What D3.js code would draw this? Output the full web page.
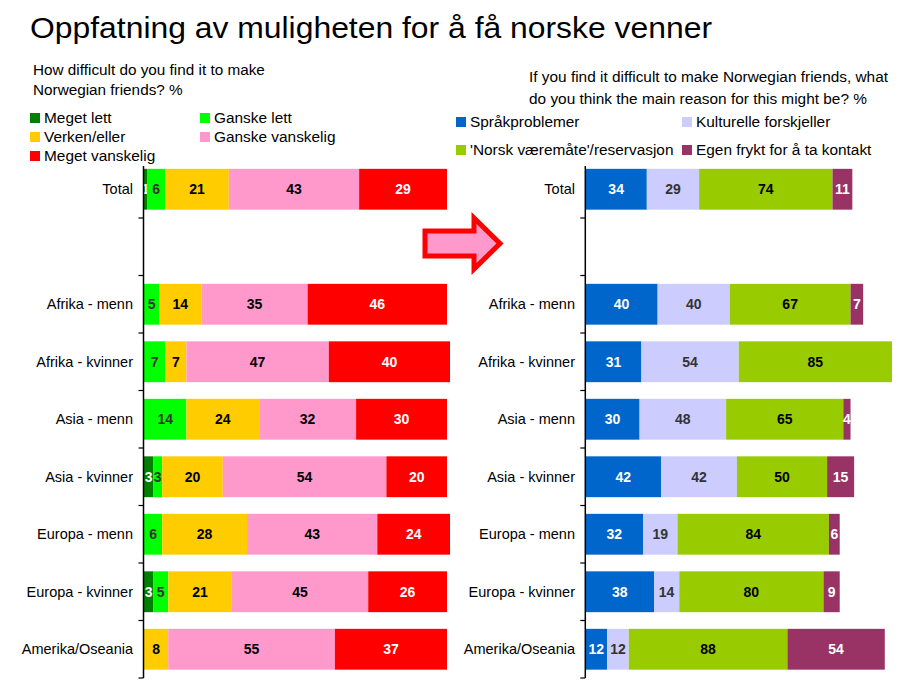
<!DOCTYPE html>
<html><head><meta charset="utf-8">
<script src="https://cdn.jsdelivr.net/npm/d3@7"></script>
<style>body{margin:0;background:#fff}svg{display:block;font-family:Arial,"Liberation Sans",sans-serif}</style>
</head><body>
<svg id="c" width="909" height="699"></svg>
<script>
const categories = ["Total", "", "Afrika - menn", "Afrika - kvinner", "Asia - menn", "Asia - kvinner", "Europa - menn", "Europa - kvinner", "Amerika/Oseania"];

// Left panel: How difficult ...
const leftSeries = ["Meget lett", "Ganske lett", "Verken/eller", "Ganske vanskelig", "Meget vanskelig"];
const megetLett       = [1, null, 0, 0, 0, 3, 0, 3, 0];
const ganskeLett      = [6, null, 5, 7, 14, 3, 6, 5, 0];
const verkenEller     = [21, null, 14, 7, 24, 20, 28, 21, 8];
const ganskeVanskelig = [43, null, 35, 47, 32, 54, 43, 45, 55];
const megetVanskelig  = [29, null, 46, 40, 30, 20, 24, 26, 37];
const leftColors = ["#008000", "#00FF00", "#FFCC00", "#FF99CC", "#FF0000"];
const leftLabelColors = ["#ffffff", "#333333", "#000000", "#000000", "#ffffff"];

// Right panel: main reason
const rightSeries = ["Språkproblemer", "Kulturelle forskjeller", "'Norsk væremåte'/reservasjon", "Egen frykt for å ta kontakt"];
const spraak     = [34, null, 40, 31, 30, 42, 32, 38, 12];
const kulturelle = [29, null, 40, 54, 48, 42, 19, 14, 12];
const norsk      = [74, null, 67, 85, 65, 50, 84, 80, 88];
const frykt      = [11, null, 7, 0, 4, 15, 6, 9, 54];
const rightColors = ["#0066CC", "#CCCCFF", "#99CC00", "#993366"];
const rightLabelColors = ["#ffffff", "#333333", "#000000", "#ffffff"];

const title = "Oppfatning av muligheten for å få norske venner";
const leftQuestion = ["How difficult do you find it to make", "Norwegian friends? %"];
const rightQuestion = ["If you find it difficult to make Norwegian friends, what", "do you think the main reason for this might be? %"];

const svg = d3.select("#c");

svg.append("text").attr("x", 30).attr("y", 38).attr("font-size", 29).attr("fill", "#000")
  .attr("textLength", 682).attr("lengthAdjust", "spacingAndGlyphs").text(title);

const y = d3.scaleBand().domain(categories.map((c, i) => i)).range([160.5, 678]).paddingInner(0.29).paddingOuter(0.145);

function panel(opts) {
  const {x, series, values, colors, labelColors, axisX, labelX} = opts;
  const g = svg.append("g");
  categories.forEach((cat, i) => {
    let acc = 0;
    series.forEach((s, k) => {
      const v = values[k][i];
      if (v == null) return;
      const x0 = x(acc), x1 = x(acc + v);
      acc += v;
      if (v <= 0) return;
      g.append("rect").attr("x", x0).attr("y", y(i)).attr("width", x1 - x0).attr("height", y.bandwidth()).attr("fill", colors[k]);
      g.append("text").attr("x", (x0 + x1) / 2).attr("y", y(i) + y.bandwidth() / 2).attr("dy", "0.35em")
        .attr("text-anchor", "middle").attr("font-size", 14).attr("font-weight", "bold").attr("fill", labelColors[k]).text(v);
    });
    g.append("text").attr("x", labelX).attr("y", y(i) + y.bandwidth() / 2).attr("dy", "0.35em")
      .attr("text-anchor", "end").attr("font-size", 14.5).attr("fill", "#000").text(cat);
  });
  // axis
  g.append("line").attr("x1", axisX).attr("x2", axisX).attr("y1", 166).attr("y2", 678).attr("stroke", "#000").attr("stroke-width", 1.5);
  const step = y.step();
  for (let j = 1; j <= categories.length; j++) {
    const ty = 160.5 + j * step;
    g.append("line").attr("x1", axisX - 5).attr("x2", axisX).attr("y1", ty).attr("y2", ty).attr("stroke", "#000").attr("stroke-width", 1.2);
  }
}

const xl = d3.scaleLinear().domain([0, 100]).range([144, 447]);
panel({x: xl, series: leftSeries, values: [megetLett, ganskeLett, verkenEller, ganskeVanskelig, megetVanskelig],
  colors: leftColors, labelColors: leftLabelColors, axisX: 143.5, labelX: 133});

const xr = d3.scaleLinear().domain([0, 170]).range([585.5, 892]);
panel({x: xr, series: rightSeries, values: [spraak, kulturelle, norsk, frykt],
  colors: rightColors, labelColors: rightLabelColors, axisX: 585.3, labelX: 575});

// Questions
leftQuestion.forEach((t, i) => svg.append("text").attr("x", 33).attr("y", 75 + i * 20).attr("font-size", 15.3).attr("fill", "#000").text(t));
rightQuestion.forEach((t, i) => svg.append("text").attr("x", 529).attr("y", 82 + i * 22).attr("font-size", 15.4).attr("fill", "#000").text(t));

// Left legend
const leftLegendPos = [[30, 118], [200, 118], [30, 137], [200, 137], [30, 156]];
leftSeries.forEach((s, k) => {
  const [lx, ly] = leftLegendPos[k];
  svg.append("rect").attr("x", lx).attr("y", ly - 5).attr("width", 10).attr("height", 10).attr("fill", leftColors[k]);
  svg.append("text").attr("x", lx + 14).attr("y", ly).attr("dy", "0.35em").attr("font-size", 15.4).attr("fill", "#000").text(s);
});
// Right legend
const rightLegendPos = [[456, 122], [682, 122], [456, 150], [682, 150]];
rightSeries.forEach((s, k) => {
  const [lx, ly] = rightLegendPos[k];
  svg.append("rect").attr("x", lx).attr("y", ly - 5).attr("width", 10).attr("height", 10).attr("fill", rightColors[k]);
  svg.append("text").attr("x", lx + 14).attr("y", ly).attr("dy", "0.35em").attr("font-size", 15.4).attr("fill", "#000").text(s);
});

// Arrow
const arrowPts = [[425, 231], [474, 231], [474, 218], [500, 243.5], [474, 269], [474, 256], [425, 256]];
svg.append("polygon").attr("points", arrowPts.map(p => p.join(",")).join(" "))
  .attr("fill", "#FF99CC").attr("stroke", "#FF0000").attr("stroke-width", 5).attr("stroke-linejoin", "miter");
</script>
</body></html>
